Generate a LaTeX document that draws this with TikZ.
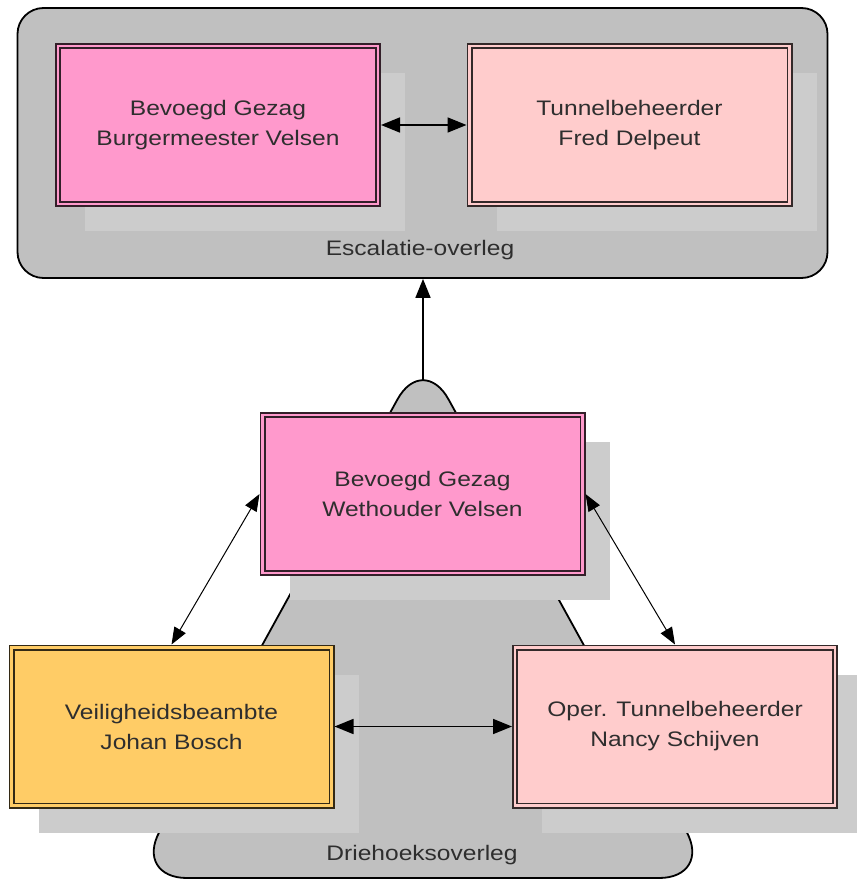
\documentclass[tikz,border=0pt]{standalone}
\usepackage{fontspec}
\setmainfont{Liberation Sans}[FakeStretch=1.17]
\usetikzlibrary{arrows.meta,shadows}
\definecolor{contgrey}{HTML}{C0C0C0}
\definecolor{shadowgrey}{HTML}{CCCCCC}
\definecolor{pinkA}{HTML}{FF99CC}
\definecolor{pinkB}{HTML}{FFCCCC}
\definecolor{yellowA}{HTML}{FFCC66}
\definecolor{txt}{HTML}{2E2E2E}
\tikzset{
  bigtip/.tip={Triangle[length=19pt,width=15pt]},
  smalltip/.tip={Triangle[length=17pt,width=13pt]}
}
\begin{document}
\begin{tikzpicture}[x=1pt,y=-1pt,
  container/.style={draw=black, line width=1.8pt, fill=contgrey},
  lbl/.style={font=\fontsize{21}{30}\selectfont, text=txt, inner sep=0pt},
  rolebox/.style={rectangle, draw=#1!20!black, double=#1, double distance=2.6pt,
    line width=1.7pt, fill=#1, minimum width=320pt, minimum height=158pt,
    outer sep=3pt, inner sep=0pt, align=center,
    font=\fontsize{21}{30}\selectfont, text=txt,
    drop shadow={shadow xshift=27pt, shadow yshift=-27pt, opacity=1,
      fill=shadowgrey, rounded corners=2pt}},
  thickconn/.style={line width=1.7pt},
  thinconn/.style={line width=1pt}]
\useasboundingbox (0,0) rectangle (856,880);
% containers
\node[container, rounded corners=26pt, minimum width=810pt, minimum height=270pt] (esc) at (422.5,143) {};
\draw[container, rounded corners=53pt] (423,878) -- (712,878) -- (423,353) -- (134,878) -- cycle;
\coordinate (tritop) at (423,380);
\node[lbl] (esclabel) at (420,250) {Escalatie-overleg};
\node[lbl] (drielabel) at (422,855) {Driehoeksoverleg};
% role boxes
\node[rolebox=pinkA] (burg) at (218,125) {Bevoegd Gezag\\Burgermeester Velsen};
\node[rolebox=pinkB] (fred) at (629.5,125) {Tunnelbeheerder\\Fred Delpeut};
\node[rolebox=pinkA] (weth) at (422.5,494) {Bevoegd Gezag\\Wethouder Velsen};
\node[rolebox=yellowA] (veil) at (171.5,726.5) {Veiligheidsbeambte\\Johan Bosch};
\node[rolebox=pinkB] (nancy) at (675,726.5) {Oper. Tunnelbeheerder\\Nancy Schijven};
% connectors
\draw[thickconn, -bigtip] (tritop) -- (tritop |- esc.south);
\draw[thickconn, bigtip-bigtip] (burg) -- (fred);
\draw[thickconn, bigtip-bigtip] (veil) -- (nancy);
\draw[thinconn, smalltip-smalltip] (weth.west) -- (veil.north);
\draw[thinconn, smalltip-smalltip] (weth.east) -- (nancy.north);
\end{tikzpicture}
\end{document}
